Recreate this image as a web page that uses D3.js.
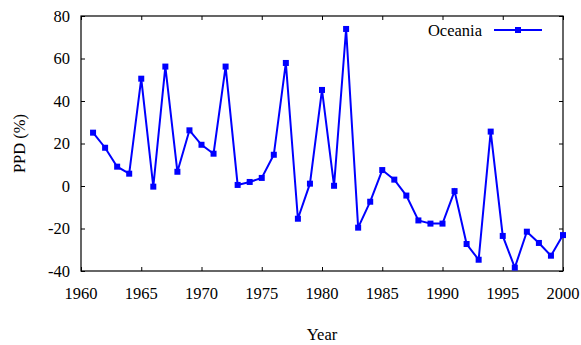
<!DOCTYPE html>
<html><head><meta charset="utf-8">
<script src="https://cdn.jsdelivr.net/npm/d3@7"></script>
<style>body{margin:0;background:#fff}svg{display:block}text{font-family:"Liberation Serif","Times New Roman",serif;fill:#000}</style>
</head><body><svg id="c" width="581" height="345"></svg>
<script>
const years = d3.range(1961, 2001);
const ppd = [25.1, 18.0, 9.1, 5.8, 50.5, -0.3, 56.2, 6.7, 26.2, 19.4,
             15.2, 56.2, 0.5, 1.9, 3.8, 14.7, 57.9, -15.4, 1.1, 45.2,
             0.1, 73.9, -19.6, -7.4, 7.5, 3.0, -4.5, -16.2, -17.7, -17.7,
             -2.4, -27.3, -34.7, 25.6, -23.5, -38.4, -21.5, -26.8, -32.8, -23.1];
const xTicks = [1960, 1965, 1970, 1975, 1980, 1985, 1990, 1995, 2000];
const yTicks = [-40, -20, 0, 20, 40, 60, 80];
const seriesName = "Oceania";
const xLabel = "Year", yLabel = "PPD (%)";

const L = 81, R = 563, T = 16, B = 271;
const fs = "16.5px";
const svg = d3.select("#c");
const x = d3.scaleLinear().domain([1960, 2000]).range([L, R]);
const y = d3.scaleLinear().domain([-40, 80]).range([B, T]);
const col = "#0000ff";

// axes with inward ticks
const styleAxis = g => { g.select(".domain").remove(); g.selectAll("line").attr("stroke","#000"); g.selectAll("text").remove(); };
svg.append("g").attr("transform",`translate(0,${B})`).call(d3.axisBottom(x).tickValues(xTicks).tickSize(-4)).call(styleAxis);
svg.append("g").attr("transform",`translate(0,${T})`).call(d3.axisTop(x).tickValues(xTicks).tickSize(-4)).call(styleAxis);
svg.append("g").attr("transform",`translate(${L},0)`).call(d3.axisLeft(y).tickValues(yTicks).tickSize(-4)).call(styleAxis);
svg.append("g").attr("transform",`translate(${R},0)`).call(d3.axisRight(y).tickValues(yTicks).tickSize(-4)).call(styleAxis);
svg.append("rect").attr("x",L).attr("y",T).attr("width",R-L).attr("height",B-T)
  .attr("fill","none").attr("stroke","#000").attr("stroke-width",1.2);

// tick labels
svg.selectAll(".xl").data(xTicks).enter().append("text")
  .attr("x", d=>x(d)).attr("y", B+28).attr("text-anchor","middle").style("font-size",fs).text(d=>d);
svg.selectAll(".yl").data(yTicks).enter().append("text")
  .attr("x", L-11).attr("y", d=>y(d)+5.5).attr("text-anchor","end").style("font-size",fs).text(d=>d);

svg.append("text").attr("x",(L+R)/2).attr("y",340).attr("text-anchor","middle").style("font-size",fs).text(xLabel);
svg.append("text").attr("transform",`translate(25,${(T+B)/2}) rotate(-90)`).attr("text-anchor","middle").style("font-size",fs).text(yLabel);

// series
const pts = years.map((yr,i)=>[yr, ppd[i]]);
svg.append("path").datum(pts).attr("fill","none").attr("stroke",col).attr("stroke-width",2)
  .attr("d", d3.line().x(d=>x(d[0])).y(d=>y(d[1])));
const ms = 6;
svg.selectAll(".m").data(pts).enter().append("rect")
  .attr("x", d=>x(d[0])-ms/2).attr("y", d=>y(d[1])-ms/2).attr("width",ms).attr("height",ms).attr("fill",col);

// legend
const ly = 30;
svg.append("text").attr("x",482).attr("y",ly+6).attr("text-anchor","end").style("font-size",fs).text(seriesName);
svg.append("line").attr("x1",494).attr("x2",542).attr("y1",ly).attr("y2",ly).attr("stroke",col).attr("stroke-width",2);
svg.append("rect").attr("x",518-ms/2).attr("y",ly-ms/2).attr("width",ms).attr("height",ms).attr("fill",col);
</script></body></html>
